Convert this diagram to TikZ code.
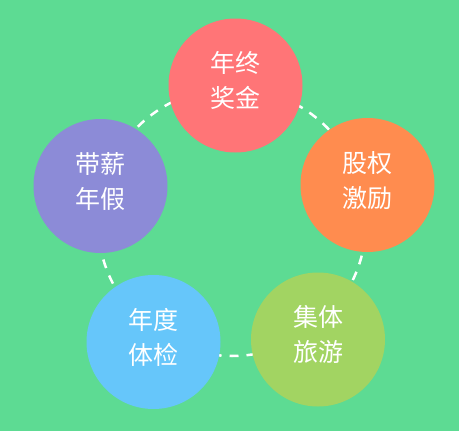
\documentclass[tikz,border=0pt]{standalone}
\usepackage{fontspec}
\newfontfamily\cjk{Noto Sans CJK SC}
\usepackage{tikz}
\usetikzlibrary{positioning}

\definecolor{bggreen}{HTML}{5DDB93}
\definecolor{bonusred}{HTML}{FF7577}
\definecolor{stockorange}{HTML}{FF8C4F}
\definecolor{tripgreen}{HTML}{A2D462}
\definecolor{checkblue}{HTML}{66C6FA}
\definecolor{leavepurple}{HTML}{8C8BD7}

\begin{document}
\begin{tikzpicture}[
    x=1pt, y=-1pt,
    bubble/.style={circle, minimum size=134pt, inner sep=0pt, align=center, text=white, font=\cjk\fontsize{25}{35}\selectfont, execute at end node={\rule[-12pt]{0pt}{12pt}}},
    ring/.style={draw=white, line width=2.5pt, dash pattern=on 9pt off 8pt}
]
\fill[bggreen] (0,0) rectangle (459,431);
\coordinate (hub) at (232,222);
\draw[ring] (hub) circle [radius=134];
\node[bubble, fill=bonusred] (bonus) at (235.5,85.5) {年终\\奖金};
\node[bubble, fill=stockorange] (stock) at (367.5,185) {股权\\激励};
\node[bubble, fill=tripgreen] (trip) at (318,339.5) {集体\\旅游};
\node[bubble, fill=checkblue] (check) at (153.5,342) {年度\\体检};
\node[bubble, fill=leavepurple] (leave) at (100.5,186) {带薪\\年假};
\end{tikzpicture}
\end{document}
